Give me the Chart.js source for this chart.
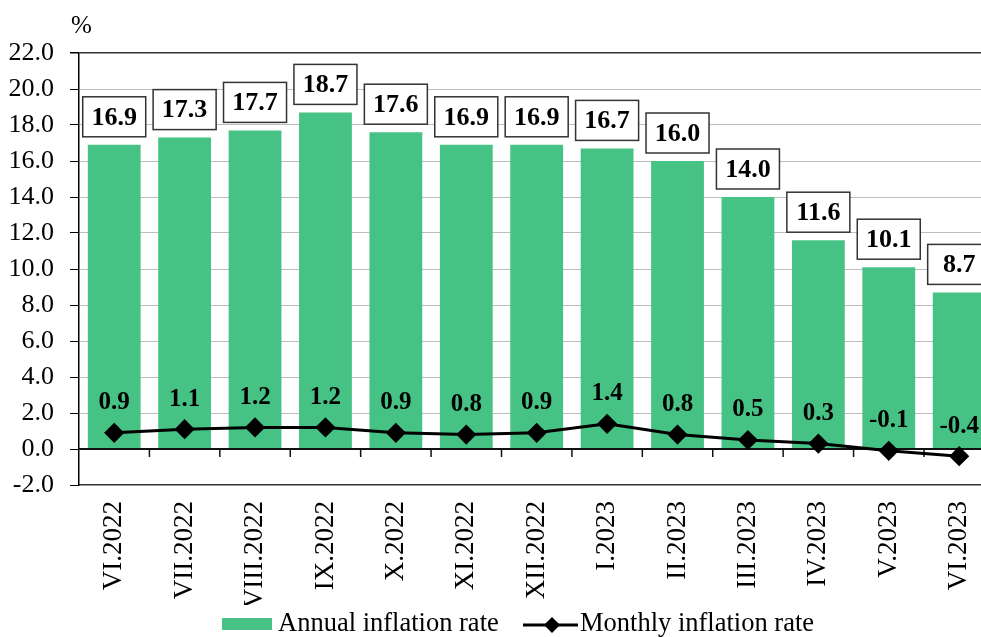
<!DOCTYPE html>
<html>
<head>
<meta charset="utf-8">
<script src="https://cdn.jsdelivr.net/npm/chart.js@4.4.0/dist/chart.umd.min.js"></script>
<style>
  html, body { margin: 0; padding: 0; background: #fff; overflow: hidden; }
  #wrap { position: relative; width: 1008px; height: 637px; }
</style>
</head>
<body>
<div id="wrap"><canvas id="inflationChart" width="1008" height="637"></canvas></div>
<script>
const months = ["VI.2022", "VII.2022", "VIII.2022", "IX.2022", "X.2022", "XI.2022", "XII.2022",
  "I.2023", "II.2023", "III.2023", "IV.2023", "V.2023", "VI.2023"];
const annualRate = [16.9, 17.3, 17.7, 18.7, 17.6, 16.9, 16.9, 16.7, 16.0, 14.0, 11.6, 10.1, 8.7];
const monthlyRate = [0.9, 1.1, 1.2, 1.2, 0.9, 0.8, 0.9, 1.4, 0.8, 0.5, 0.3, -0.1, -0.4];
const yMin = -2, yMax = 22, yStep = 2;

const serif = "'Liberation Serif', 'Times New Roman', serif";
const green = "#45c284";

// zero line, value boxes, legend and the % unit are drawn by hand
const labelPlugin = {
  id: "labelPlugin",
  afterDatasetDraw(chart, args) {
    if (args.meta.type !== "bar") return;
    const ctx = chart.ctx;
    const x = chart.scales.x, y = chart.scales.y;
    const y0 = y.getPixelForValue(0);
    ctx.save();
    ctx.strokeStyle = "#111";
    ctx.lineWidth = 2;
    ctx.beginPath();
    ctx.moveTo(chart.chartArea.left, y0);
    ctx.lineTo(chart.chartArea.right, y0);
    ctx.stroke();
    ctx.lineWidth = 1.5;
    for (let i = 1; i <= months.length; i++) {
      let px = (x.getPixelForValue(i - 1) + x.getPixelForValue(i)) / 2;
      ctx.beginPath();
      ctx.moveTo(px, y0);
      ctx.lineTo(px, y0 + 8);
      ctx.stroke();
    }
    ctx.restore();
  },
  afterDatasetsDraw(chart) {
    const ctx = chart.ctx;
    ctx.save();
    ctx.textAlign = "center";
    ctx.textBaseline = "middle";

    let bars = chart.getDatasetMeta(0).data;
    ctx.font = "bold 26px " + serif;
    bars.forEach((bar, i) => {
      let w = 63, h = 40;
      let bx = bar.x - w / 2, by = bar.y - 8 - h;
      ctx.fillStyle = "#fff";
      ctx.fillRect(bx, by, w, h);
      ctx.strokeStyle = "#333";
      ctx.lineWidth = 1.5;
      ctx.strokeRect(bx, by, w, h);
      ctx.fillStyle = "#000";
      ctx.fillText(annualRate[i].toFixed(1), bar.x, by + h / 2 + 1);
    });

    let points = chart.getDatasetMeta(1).data;
    ctx.font = "bold 25px " + serif;
    points.forEach((pt, i) => {
      ctx.fillStyle = "#000";
      ctx.fillText(monthlyRate[i].toFixed(1), pt.x, pt.y - 30);
    });
    ctx.restore();
  },
  afterDraw(chart) {
    const ctx = chart.ctx;
    ctx.save();
    ctx.fillStyle = "#000";
    ctx.font = "25px " + serif;
    ctx.textBaseline = "middle";
    ctx.textAlign = "left";
    ctx.fillText("%", 71, 26);

    // legend
    ctx.font = "26.5px " + serif;
    let ly = 624;
    let lx = 222;
    ctx.fillStyle = green;
    ctx.fillRect(lx, ly - 6, 50, 12);
    ctx.fillStyle = "#000";
    ctx.fillText(chart.data.datasets[0].label, lx + 56, ly);
    let lx2 = 523;
    ctx.strokeStyle = "#000";
    ctx.lineWidth = 3;
    ctx.beginPath();
    ctx.moveTo(lx2, ly + 1);
    ctx.lineTo(lx2 + 55, ly + 1);
    ctx.stroke();
    ctx.beginPath();
    ctx.moveTo(lx2 + 29, ly - 7);
    ctx.lineTo(lx2 + 37, ly + 1);
    ctx.lineTo(lx2 + 29, ly + 9);
    ctx.lineTo(lx2 + 21, ly + 1);
    ctx.closePath();
    ctx.fill();
    ctx.fillText(chart.data.datasets[1].label, lx2 + 57, ly);
    ctx.restore();
  }
};

const ctx = document.getElementById("inflationChart").getContext("2d");

let configuration = {
  type: "bar",
  data: {
    labels: months,
    datasets: [
      {
        type: "bar",
        label: "Annual inflation rate",
        data: annualRate,
        backgroundColor: green,
        borderWidth: 0,
        categoryPercentage: 1.0,
        barPercentage: 0.75,
        order: 1,
      },
      {
        type: "line",
        label: "Monthly inflation rate",
        data: monthlyRate,
        borderColor: "#000",
        borderWidth: 3,
        pointStyle: "rectRot",
        pointRadius: 8,
        pointBackgroundColor: "#000",
        pointBorderColor: "#000",
        tension: 0,
        order: 0,
      },
    ],
  },
  options: {
    responsive: false,
    animation: false,
    layout: { padding: { top: 53, right: 6, bottom: 32, left: 0 } },
    plugins: {
      legend: { display: false },
      tooltip: { enabled: false },
    },
    scales: {
      x: {
        offset: true,
        grid: { display: false, drawTicks: false },
        border: { display: true, color: "#333", width: 1.5 },
        ticks: {
          color: "#000",
          font: { family: serif, size: 27 },
          maxRotation: 90,
          minRotation: 90,
          padding: 16,
          autoSkip: false,
        },
        afterFit(scale) { scale.height = 120; },
      },
      y: {
        min: yMin,
        max: yMax,
        ticks: {
          stepSize: yStep,
          color: "#000",
          font: { family: serif, size: 26 },
          padding: 16,
          callback: (v) => v.toFixed(1),
        },
        grid: {
          color: (c) => {
            if (c.tick.value === yMax) return "#333";
            if (c.tick.value === yMin || c.tick.value === 0) return "rgba(0,0,0,0)";
            return "#bdbdbd";
          },
          lineWidth: (c) => (c.tick.value === yMax ? 1.5 : 1),
          tickColor: "#000",
          tickLength: 9,
        },
        border: { display: true, color: "#000", width: 1.5 },
        afterFit(scale) { scale.width = 79; },
      },
    },
  },
  plugins: [labelPlugin],
};

var chart = new Chart(ctx, configuration);
</script>
</body>
</html>
